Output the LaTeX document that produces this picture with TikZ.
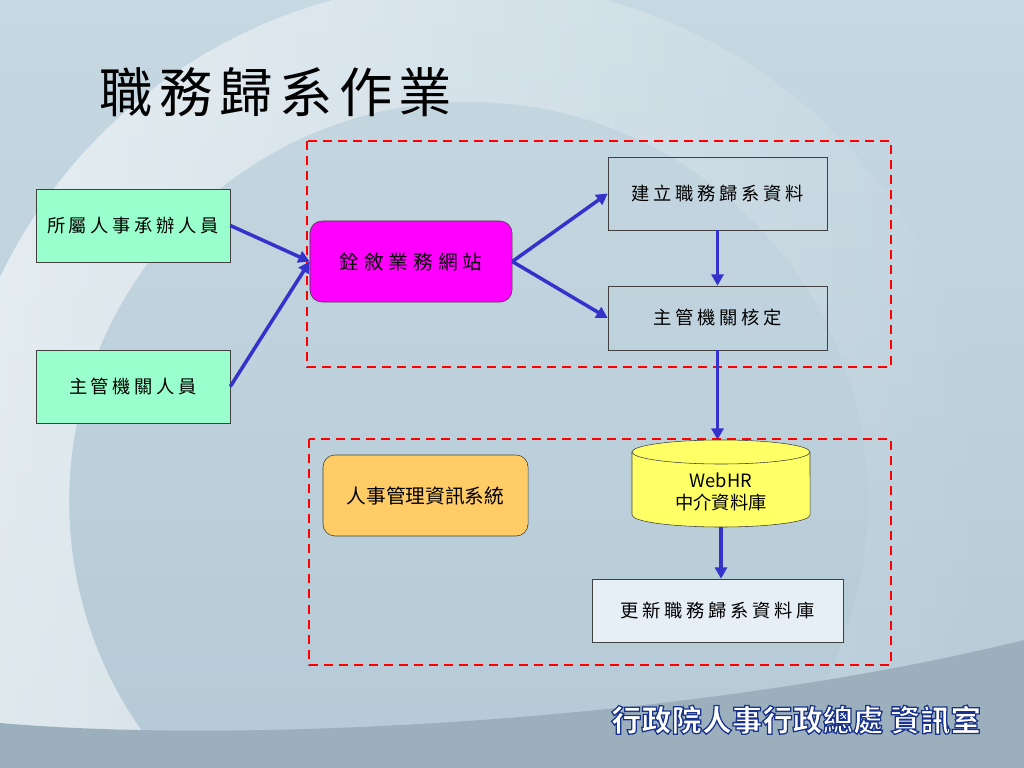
\documentclass[tikz,border=0pt]{standalone}
\usepackage{fontspec}
\setmainfont{Noto Sans CJK TC}
\usetikzlibrary{arrows.meta,fadings}

\definecolor{slidebg}{HTML}{B5CAD6}
\definecolor{slidetop}{HTML}{C6D8E2}
\definecolor{bandgray}{HTML}{9BB0BC}
\definecolor{mint}{HTML}{99FFCC}
\definecolor{webpink}{HTML}{FF00FF}
\definecolor{hrorange}{HTML}{FFCC66}
\definecolor{dbyellow}{HTML}{FFFF66}
\definecolor{paleblue}{HTML}{E6EEF6}
\definecolor{linkblue}{HTML}{3333CC}

\newcommand{\outlined}[1]{\special{pdf:literal direct 2 Tr 0.9 w 0.1 0.2 0.55 RG}#1\special{pdf:literal direct 0 Tr}}

\begin{document}
\begin{tikzpicture}
[x=0.025cm, y=-0.025cm,
every node/.style={inner sep=0pt, font=\fontsize{13}{15}\selectfont\addfontfeatures{LetterSpace=20}},
person/.style={draw=black!75, fill=mint, minimum width=4.85cm, minimum height=1.825cm},
task/.style={draw=black!75, minimum width=5.475cm},
site/.style={draw=black!75, rounded corners=0.3cm, minimum height=2.025cm},
frame/.style={draw=red, line width=1.5pt, dash pattern=on 6.4pt off 4.3pt},
link/.style={draw=linkblue, line width=2.5pt, -{Triangle[length=8pt,width=8.5pt]}}]

\useasboundingbox (0,0) rectangle (1024,768);
\clip (0,0) rectangle (1024,768);

% background
\shade[top color=slidetop, bottom color=slidebg] (0,0) rectangle (1024,768);
\fill[white, opacity=0.6, path fading=east, even odd rule]
  (470,500) circle[radius=520] (470,500) circle[radius=400];
\fill[bandgray] (0,768) -- (0,723) .. controls (250,745) and (700,720) .. (1024,640) -- (1024,768) -- cycle;

\node[font=\fontsize{38}{42}\selectfont\addfontfeatures{LetterSpace=12}] (title) at (276,92) {職務歸系作業};

\draw[frame] (307,141) rectangle (891,367);
\draw[frame] (309,439) rectangle (891,665);

\node[person] (staff) at (133,225.5) {所屬人事承辦人員};
\node[person] (boss) at (133,386.5) {主管機關人員};
\node[site, fill=webpink, minimum width=5.05cm,
  font=\fontsize{14}{16}\selectfont\addfontfeatures{LetterSpace=25}] (web) at (411,261.5) {銓敘業務網站};
\node[task, minimum height=1.825cm] (build) at (717.5,193.5) {建立職務歸系資料};
\node[task, minimum height=1.6cm] (approve) at (717.5,318) {主管機關核定};
\node[site, fill=hrorange, minimum width=5.125cm, font=\fontsize{14}{16}\selectfont] (hr) at (425.5,495.5) {人事管理資訊系統};

% cylinder
\node[minimum width=4.45cm, minimum height=2.175cm] (db) at (721,483.5) {};
\filldraw[draw=black!75, fill=dbyellow] (632,452) -- (632,515) arc[start angle=180, end angle=360, x radius=2.225cm, y radius=0.3cm]
  -- (810,452) arc[start angle=0, end angle=180, x radius=2.225cm, y radius=0.3cm] -- cycle;
\draw[black!75] (632,452) arc[start angle=180, end angle=360, x radius=2.225cm, y radius=0.3cm];
\node[align=center, font=\fontsize{13}{16}\selectfont] (dbtext) at (721,492) {WebHR\\中介資料庫};

\node[draw=black!75, fill=paleblue, minimum width=6.275cm, minimum height=1.575cm] (update) at (717.5,610.5) {更新職務歸系資料庫};

\draw[link] (staff.east) -- (web.west);
\draw[link] (boss.east) -- (web.west);
\draw[link] (web.east) -- (build.west);
\draw[link] (web.east) -- (approve.west);
\draw[link] (build.south) -- (approve.north);
\draw[link] (approve.south) -- (approve.south |- db.north);
\draw[link] (db.south) -- (db.south |- update.north);

\node[text=white, font=\fontsize{21.5}{24}\selectfont\bfseries] (office) at (796,720) {\outlined{行政院人事行政總處 資訊室}};
\end{tikzpicture}
\end{document}
